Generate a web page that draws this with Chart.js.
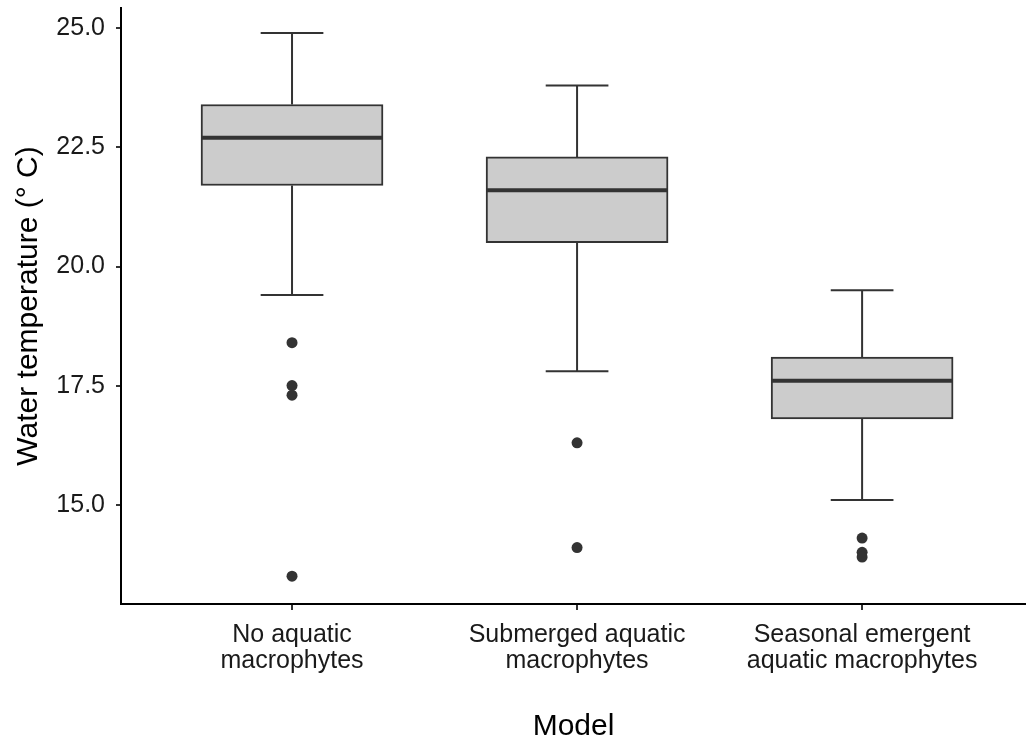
<!DOCTYPE html>
<html>
<head>
<meta charset="utf-8">
<script src="https://cdn.jsdelivr.net/npm/chart.js@4.4.1/dist/chart.umd.min.js"></script>
<style>
  html, body { margin: 0; padding: 0; background: #fff; }
  #wrap { width: 1026px; height: 740px; }
</style>
</head>
<body>
<div id="wrap"><canvas id="chart"></canvas></div>
<script>
// box plot values
const categories = [
  ['No aquatic', 'macrophytes'],
  ['Submerged aquatic', 'macrophytes'],
  ['Seasonal emergent', 'aquatic macrophytes']
];
const whiskerLow = [19.4, 17.8, 15.1];
const q1 = [21.7, 20.5, 16.8];
const median = [22.7, 21.6, 17.6];
const q3 = [23.4, 22.3, 18.1];
const whiskerHigh = [24.9, 23.8, 19.5];
const outliers = [
  [18.4, 17.5, 17.3, 13.5],
  [16.3, 14.1],
  [14.3, 14.0, 13.9]
];
const yTicks = [15, 17.5, 20, 22.5, 25];

const FONT = "'Liberation Sans', Arial, sans-serif";
const INK = '#333333';

// whiskers + median lines, drawn with the chart scales
const boxLines = {
  id: 'boxLines',
  beforeDatasetsDraw(chart) {
    const { ctx, scales: { x, y } } = chart;
    ctx.save();
    ctx.strokeStyle = INK;
    ctx.lineWidth = 2;
    categories.forEach((c, i) => {
      const cx = x.getPixelForValue(i + 1);
      const half = (x.getPixelForValue(i + 1.11) - cx);
      ctx.beginPath();
      ctx.moveTo(cx, y.getPixelForValue(q3[i]));
      ctx.lineTo(cx, y.getPixelForValue(whiskerHigh[i]));
      ctx.moveTo(cx, y.getPixelForValue(q1[i]));
      ctx.lineTo(cx, y.getPixelForValue(whiskerLow[i]));
      ctx.moveTo(cx - half, y.getPixelForValue(whiskerHigh[i]));
      ctx.lineTo(cx + half, y.getPixelForValue(whiskerHigh[i]));
      ctx.moveTo(cx - half, y.getPixelForValue(whiskerLow[i]));
      ctx.lineTo(cx + half, y.getPixelForValue(whiskerLow[i]));
      ctx.stroke();
    });
    ctx.restore();
  },
  afterDatasetsDraw(chart) {
    const { ctx, scales: { x, y } } = chart;
    ctx.save();
    ctx.strokeStyle = INK;
    ctx.lineWidth = 4;
    categories.forEach((c, i) => {
      const left = x.getPixelForValue(i + 1 - 0.32) + 1;
      const right = x.getPixelForValue(i + 1 + 0.32) - 1;
      const my = y.getPixelForValue(median[i]);
      ctx.beginPath();
      ctx.moveTo(left, my);
      ctx.lineTo(right, my);
      ctx.stroke();
    });
    ctx.restore();
  }
};

const boxData = categories.map((c, i) => ({ x: i + 1, y: [q1[i], q3[i]] }));
const outlierData = [];
outliers.forEach((list, i) => list.forEach(v => outlierData.push({ x: i + 1, y: v })));

const noPad = s => { s.paddingTop = 0; s.paddingBottom = 0; s.paddingLeft = 0; s.paddingRight = 0; };

new Chart(document.getElementById('chart'), {
  type: 'bar',
  data: {
    datasets: [
      {
        type: 'bar',
        data: boxData,
        backgroundColor: '#cccccc',
        borderColor: INK,
        borderWidth: 2,
        borderSkipped: false,
        barThickness: 182
      },
      {
        type: 'scatter',
        data: outlierData,
        backgroundColor: INK,
        borderWidth: 0,
        pointRadius: 5.5
      }
    ]
  },
  options: {
    responsive: true,
    maintainAspectRatio: false,
    animation: false,
    events: [],
    layout: { autoPadding: false, padding: { top: 8, right: 0, left: 0, bottom: 0 } },
    plugins: { legend: { display: false }, tooltip: { enabled: false } },
    scales: {
      x: {
        type: 'linear',
        offset: false,
        min: 0.4,
        max: 3.575,
        afterBuildTicks: s => { s.ticks = categories.map((c, i) => ({ value: i + 1 })); },
        afterFit: s => { s.height = 136; noPad(s); },
        ticks: {
          callback: v => categories[v - 1],
          color: '#1a1a1a',
          font: { family: FONT, size: 25, lineHeight: 1.05 },
          padding: 12,
          maxRotation: 0,
          autoSkip: false
        },
        grid: { offset: false, drawOnChartArea: false, drawTicks: true, tickLength: 6, color: INK, lineWidth: 2 },
        border: { display: true, color: '#000', width: 2 },
        title: {
          display: true,
          text: 'Model',
          color: '#000',
          font: { family: FONT, size: 30, lineHeight: 1 },
          padding: { top: 0, bottom: -2 }
        }
      },
      y: {
        min: 12.916,
        max: 25.426,
        afterBuildTicks: s => { s.ticks = yTicks.map(v => ({ value: v })); },
        afterFit: s => { s.width = 121; noPad(s); },
        ticks: {
          callback: v => v.toFixed(1),
          color: '#1a1a1a',
          font: { family: FONT, size: 25 },
          padding: 11
        },
        grid: { drawOnChartArea: false, drawTicks: true, tickLength: 5, color: INK, lineWidth: 2 },
        border: { display: true, color: '#000', width: 2 },
        title: {
          display: true,
          text: 'Water temperature (° C)',
          color: '#000',
          font: { family: FONT, size: 30, lineHeight: 1 },
          padding: { top: 14, bottom: 0 }
        }
      }
    }
  },
  plugins: [boxLines]
});
</script>
</body>
</html>
